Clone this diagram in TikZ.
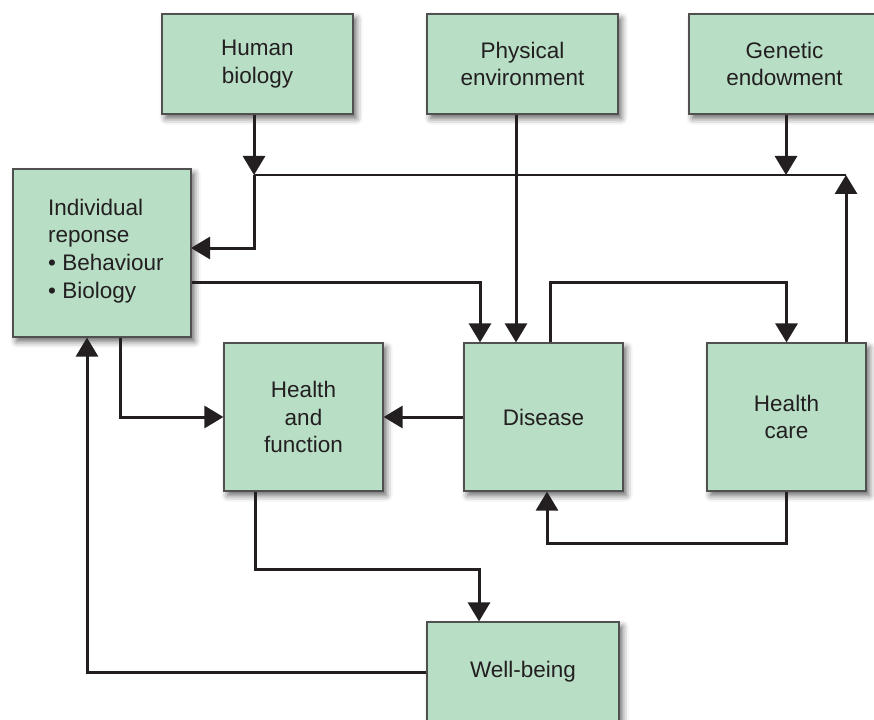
\documentclass[tikz,border=0pt]{standalone}
\usepackage{fontspec}
\setmainfont{Liberation Sans}
\usetikzlibrary{arrows.meta,shadows.blur,calc}
\definecolor{boxfill}{HTML}{B8DEC6}
\definecolor{boxline}{HTML}{505050}
\definecolor{ink}{HTML}{231F20}
\tikzset{
  txt/.style={text=ink, font=\fontsize{22.5}{27.8}\selectfont},
  box/.style={draw=boxline, line width=1.2pt, fill=boxfill, txt,
    align=center, inner sep=0pt,
    blur shadow={shadow xshift=3.5pt, shadow yshift=-4.5pt,
      shadow blur radius=6pt, shadow opacity=60}},
  conn/.style={draw=ink, line width=3pt,
    -{Triangle[width=22pt,length=19pt]}},
  wire/.style={draw=ink, line width=2.6pt}
}
\begin{document}
\begin{tikzpicture}[x=1pt,y=-1pt]
\useasboundingbox (0,0) rectangle (874,719);
\clip (0,0) rectangle (874,719);

% boxes
\node[box, minimum width=191pt, minimum height=100pt] (hb) at (257.5,64) {Human\\biology};
\node[box, minimum width=191pt, minimum height=100pt] (pe) at (522.5,64) {Physical\\environment};
\node[box, minimum width=191pt, minimum height=100pt] (ge) at (784.5,64) {Genetic\\endowment};
\node[box, minimum width=178pt, minimum height=168pt] (ind) at (102,253) {};
\node[anchor=west, align=left, inner sep=0pt, txt] (indtext) at (48,251)
      {Individual\\reponse\\• Behaviour\\• Biology};
\node[box, minimum width=159pt, minimum height=148pt] (hf) at (303.5,417) {Health\\and\\function};
\node[box, minimum width=159pt, minimum height=148pt] (dis) at (543.5,417) {Disease};
\node[box, minimum width=159pt, minimum height=148pt] (hc) at (786.5,417) {Health\\care};
\node[box, minimum width=192pt, minimum height=100pt] (wb) at (523,672) {Well-being};

% routing points
\coordinate (busL) at (254,175);
\coordinate (busR) at (846,175);
\coordinate (pex) at (516,0);
\coordinate (gex) at (786,0);
\coordinate (indin) at (191,248);
\coordinate (row1) at (0,282);
\coordinate (dinx) at (480,0);
\coordinate (doutx) at (550,0);
\coordinate (dbotx) at (547,0);
\coordinate (loopy) at (0,543);
\coordinate (indoutx) at (120,0);
\coordinate (indinx) at (87,0);
\coordinate (hfoutx) at (255,0);
\coordinate (low) at (0,569);
\coordinate (wbinx) at (479,0);

% top inputs and bus
\draw[conn] (hb.south -| busL) -- (busL);
\draw[conn] (pe.south -| pex) -- (dis.north -| pex);
\draw[conn] (ge.south -| gex) -- (busR -| gex);
\draw[wire] (busL) -- (busR);
\draw[conn] (busL) |- (indin);
\draw[conn] (hc.north -| busR) -- (busR);

% individual response to disease
\draw[conn] (ind.east |- row1) -| (dis.north -| dinx);
% disease to health care
\draw[conn] (dis.north -| doutx) |- (row1 -| hc.north) -- (hc.north);
% health care back to disease
\draw[conn] (hc.south) |- (loopy -| dbotx) -- (dis.south -| dbotx);
% disease to health and function
\draw[conn] (dis.west) -- (hf.east);
% individual response to health and function
\draw[conn] (ind.south -| indoutx) |- (hf.west);
% health and function to well-being
\draw[conn] (hf.south -| hfoutx) |- (low -| wbinx) -- (wb.north -| wbinx);
% well-being back to individual response
\draw[conn] (wb.west) -| (ind.south -| indinx);
\end{tikzpicture}
\end{document}
